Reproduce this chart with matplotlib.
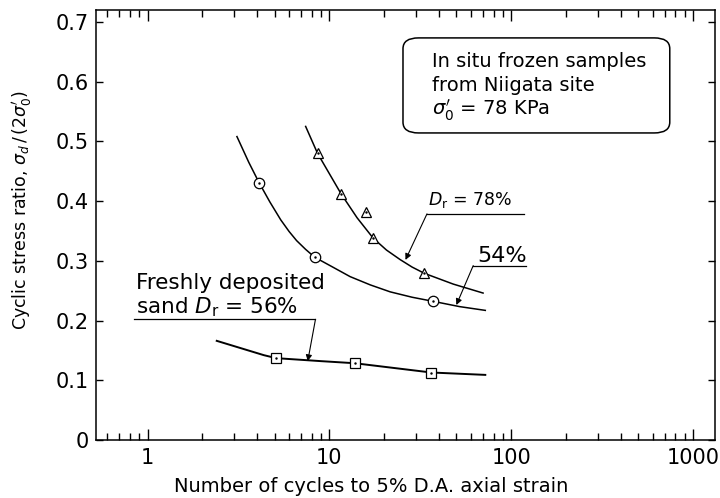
import numpy as np
import matplotlib
matplotlib.use("Agg")
import matplotlib.pyplot as plt
from matplotlib.patches import FancyBboxPatch
from matplotlib.ticker import FixedLocator, FuncFormatter, NullFormatter

plt.rcParams['font.family'] = ['DejaVu Sans']
plt.rcParams['mathtext.fontset'] = 'dejavusans'

# measured points
tri_x = [8.6, 11.6, 15.9, 17.4, 33.3]
tri_y = [0.480, 0.412, 0.381, 0.338, 0.279]
circ_x = [4.1, 8.3, 37.0]
circ_y = [0.431, 0.306, 0.232]
sq_x = [5.1, 13.8, 36.3]
sq_y = [0.137, 0.1285, 0.112]

# fitted curves
c78_x = [7.4, 8.6, 11.6, 14.2, 17.4, 20.6, 24.5, 28.5, 33.3, 48, 70]
c78_y = [0.525, 0.480, 0.412, 0.372, 0.338, 0.318, 0.302, 0.2895, 0.279, 0.261, 0.246]
c54_x = [3.1, 3.6, 4.1, 4.7, 5.4, 6.0, 6.6, 7.4, 8.3, 10.5, 13.0, 16.8, 21.6, 28.5, 37.4, 52, 72]
c54_y = [0.508, 0.465, 0.431, 0.3987, 0.3685, 0.3491, 0.3338, 0.3191, 0.306,
         0.289, 0.2735, 0.2596, 0.248, 0.239, 0.232, 0.2233, 0.217]
c56_x = [2.4, 4.36, 5.1, 9.0, 13.8, 36.3, 72]
c56_y = [0.166, 0.142, 0.137, 0.132, 0.1285, 0.113, 0.109]

fig = plt.figure(figsize=(7.2, 4.98), dpi=100)
ax = fig.add_axes([0.1333, 0.1165, 0.8597, 0.8635])

ax.plot(c78_x, c78_y, color='black', lw=1.1)
ax.plot(c54_x, c54_y, color='black', lw=1.1)
ax.plot(c56_x, c56_y, color='black', lw=1.4)

mk = dict(mfc='white', mec='black', mew=0.9, ls='none', zorder=3)
ax.plot(tri_x, tri_y, marker='^', ms=7.5, **mk)
ax.plot(circ_x, circ_y, marker='o', ms=7.5, **mk)
ax.plot(sq_x, sq_y, marker='s', ms=6.5, **mk)
ax.plot(tri_x + circ_x + sq_x, tri_y + circ_y + sq_y, 'k.', ms=1.5, zorder=4)

# labels with leaders
arr = dict(arrowstyle='-|>', lw=0.8, color='black', mutation_scale=9,
           shrinkA=0, shrinkB=0)
ax.text(35, 0.3936, r"$D_{\rm r}$ = 78%", fontsize=12.5, va='baseline')
ax.plot([34.4, 118], [0.3786, 0.3786], color='black', lw=0.9)
ax.annotate("", xy=(26.2, 0.3015), xytext=(34.4, 0.3786), arrowprops=arr)

ax.text(64.8, 0.2987, "54%", fontsize=16, va='baseline')
ax.plot([61.8, 121], [0.292, 0.292], color='black', lw=0.9)
ax.annotate("", xy=(49.9, 0.226), xytext=(61.8, 0.292), arrowprops=arr)

ax.text(0.859, 0.253, "Freshly deposited", fontsize=15.5, va='baseline')
ax.text(0.859, 0.2127, r"sand $D_{\rm r}$ = 56%", fontsize=15.5, va='baseline')
ax.plot([0.838, 8.38], [0.202, 0.202], color='black', lw=0.9)
ax.annotate("", xy=(7.6, 0.132), xytext=(8.38, 0.202), arrowprops=arr)

# info box
box = FancyBboxPatch((0.496, 0.714), 0.431, 0.221, transform=ax.transAxes,
                     boxstyle="round,pad=0,rounding_size=0.025",
                     fc='white', ec='black', lw=1.1)
ax.add_patch(box)
ax.text(0.543, 0.867, "In situ frozen samples", transform=ax.transAxes,
        fontsize=14, va='baseline')
ax.text(0.543, 0.812, "from Niigata site", transform=ax.transAxes,
        fontsize=14, va='baseline')
ax.text(0.543, 0.756, r"$\sigma_0'$ = 78 KPa", transform=ax.transAxes,
        fontsize=14, va='baseline')

ax.set_xscale('log')
ax.set_xlim(0.52, 1320)
ax.set_ylim(0, 0.72)

ax.xaxis.set_major_locator(FixedLocator([1, 10, 100, 1000]))
ax.xaxis.set_major_formatter(FuncFormatter(lambda v, p: "%d" % v))
ax.xaxis.set_minor_formatter(NullFormatter())
ax.set_yticks([0, 0.1, 0.2, 0.3, 0.4, 0.5, 0.6, 0.7])
ax.yaxis.set_major_formatter(FuncFormatter(lambda v, p: "0" if v == 0 else "%.1f" % v))

ax.tick_params(which='both', direction='in', top=True, right=True,
               labelsize=15, width=1.0)
ax.tick_params(axis='x', which='major', length=8, pad=6)
ax.tick_params(axis='x', which='minor', length=5)
ax.tick_params(axis='y', which='major', length=5, pad=5)
for s in ax.spines.values():
    s.set_linewidth(1.1)

ax.set_xlabel("Number of cycles to 5% D.A. axial strain", fontsize=14)
ax.xaxis.set_label_coords(0.445, -0.085)
ax.set_ylabel(r"Cyclic stress ratio, $\sigma_d\,/\,(2\sigma_0')$", fontsize=12.5)
ax.yaxis.set_label_coords(-0.10, 0.535)

plt.savefig("out.png", dpi=100)
